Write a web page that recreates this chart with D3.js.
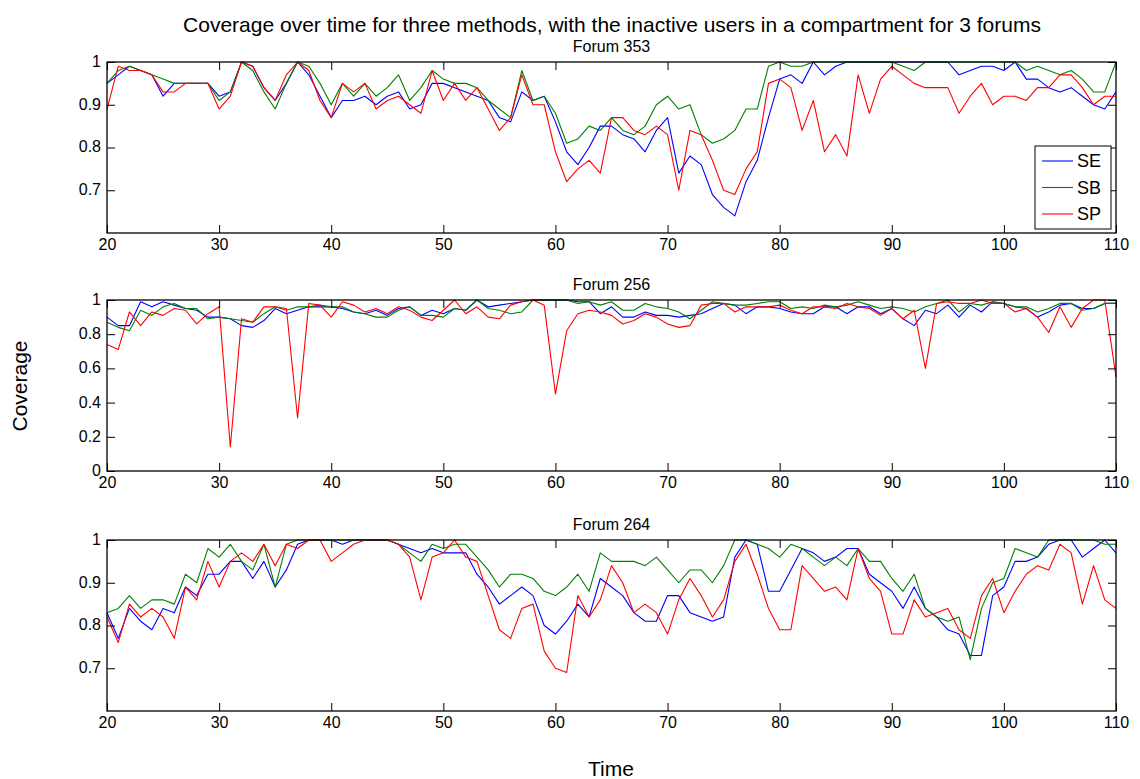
<!DOCTYPE html>
<html>
<head>
<meta charset="utf-8">
<script src="https://cdnjs.cloudflare.com/ajax/libs/d3/7.8.5/d3.min.js"></script>
<style>
  body { margin: 0; background: #fff; }
  svg { font-family: "Liberation Sans", Arial, Helvetica, sans-serif; }
  .tick text { font-size: 16px; fill: #000; }
  .tick line { stroke: #000; }
</style>
</head>
<body>
<svg id="chart" width="1140" height="779"></svg>
<script>
// time steps shared by every panel
var time = d3.range(20, 111);

var seriesNames = ['SE', 'SB', 'SP'];
var seriesColors = ['#0000ff', '#008000', '#ff0000'];

// Forum 353
var f353SE = [.95,.97,.99,.98,.97,.92,.95,.95,.95,.95, .92,.93,1,.99,.94,.91,.95,1,.97,.92,
  .87,.91,.91,.92,.90,.92,.93,.89,.90,.95, .95,.94,.93,.92,.91,.87,.86,.93,.91,.92,
  .86,.79,.76,.80,.85,.85,.83,.82,.79,.84, .87,.74,.78,.76,.69,.66,.64,.72,.77,.87,
  .96,.97,.95,1,.97,.99,1,1,1,1, 1,1,1,1,1,1,.97,.98,.99,.99, .98,1,.96,.96,.94,.93,.94,.92,.90,.89,.93];
var f353SB = [.95,.98,.99,.98,.97,.96,.95,.95,.95,.95, .91,.93,1,.98,.93,.89,.95,1,.99,.95,
  .90,.95,.92,.95,.92,.94,.97,.91,.94,.98, .96,.95,.95,.94,.91,.89,.87,.98,.91,.92,
  .88,.81,.82,.85,.84,.87,.84,.83,.85,.90, .92,.89,.90,.83,.81,.82,.84,.89,.89,.99,
  1,.99,.99,1,1,1,1,1,1,1, 1,.99,.98,1,1,1,1,1,1,1, 1,1,.98,.99,.98,.97,.98,.96,.93,.93,1];
var f353SP = [.89,.99,.98,.98,.97,.93,.93,.95,.95,.95, .89,.92,1,.99,.94,.91,.97,1,.98,.91,
  .87,.95,.93,.95,.89,.91,.92,.90,.88,.98, .91,.95,.91,.94,.89,.84,.87,.97,.90,.90,
  .79,.72,.75,.77,.74,.87,.87,.84,.83,.85, .83,.70,.84,.83,.77,.70,.69,.75,.79,.95,
  .96,.94,.84,.91,.79,.83,.78,.97,.88,.96, .99,.97,.95,.94,.94,.94,.88,.92,.95,.90,
  .92,.92,.91,.94,.94,.97,.97,.94,.90,.92,.92];

// Forum 256
var f256SE = [.90,.85,.85,.99,.96,.99,.97,.95,.94,.90, .90,.89,.85,.84,.88,.95,.92,.94,.96,.96,
  .96,.95,.93,.92,.94,.91,.95,.96,.91,.94, .92,.95,.94,1,.96,.97,.98,.99,1,1,
  1,1,.99,.99,.92,.96,.90,.90,.93,.91, .91,.90,.91,.92,.95,.98,.97,.92,.96,.96,
  .95,.93,.92,.92,.96,.96,.92,.96,.96,.92, .95,.89,.85,.94,.92,.97,.90,.97,.93,.99,
  .98,.96,.95,.90,.93,.97,.98,.95,.95,.98,.98];
var f256SB = [.87,.84,.82,.94,.91,.96,.98,.95,.95,.89, .90,.89,.88,.87,.92,.96,.94,.96,.96,.97,
  .96,.96,.93,.92,.90,.90,.94,.96,.91,.91, .90,.95,.94,1,.95,.94,.92,.93,1,1,
  1,1,.98,.99,.97,.99,.94,.94,.98,.96, .95,.93,.89,.94,.99,.98,.97,.97,.98,.99,
  .99,.95,.96,.95,.97,.96,.97,.99,.97,.95, .96,.95,.93,.96,.98,1,.93,.98,.97,.99,
  .98,.96,.96,.93,.95,.98,.98,.94,.95,.98,.98];
var f256SP = [.74,.71,.93,.85,.93,.91,.95,.94,.86,.92, .96,.14,.89,.87,.96,.96,.95,.31,.98,.97,
  .90,.99,.97,.93,.95,.92,.96,.94,.90,.88, .94,1,.92,.96,.90,.89,.97,.99,1,.97,
  .45,.82,.92,.94,.93,.91,.86,.88,.92,.90, .86,.84,.85,.97,.98,.98,.93,.96,.96,.96,
  .97,.94,.92,.96,.96,.95,.98,.96,.95,.91, .95,.89,.94,.60,.98,.99,.98,.98,1,.98,
  .98,.93,.95,.90,.81,.96,.84,.95,1,1,.55];

// Forum 264
var f264SE = [.83,.77,.84,.81,.79,.84,.83,.89,.87,.92, .92,.95,.95,.91,.95,.89,.93,.99,1,1,
  1,.99,1,1,1,1,.99,.98,.97,.98, .97,.97,.97,.92,.89,.85,.87,.89,.87,.80,
  .78,.81,.85,.82,.91,.89,.87,.83,.81,.81, .87,.87,.83,.82,.81,.82,.96,1,.99,.88,
  .88,.93,.98,.97,.95,.96,.98,.98,.92,.90, .88,.84,.89,.84,.82,.79,.78,.73,.73,.87,
  .89,.95,.95,.96,.99,1,1,.96,.98,1,.97];
var f264SB = [.83,.84,.87,.84,.86,.86,.85,.92,.90,.98, .96,.99,.95,.93,.99,.89,.99,1,1,1,
  1,1,1,1,1,1,.99,.97,.95,.99, .98,.99,.99,.96,.93,.89,.92,.92,.91,.88,
  .87,.89,.92,.88,.97,.95,.95,.95,.94,.96, .93,.90,.93,.93,.90,.94,1,1,.99,.98,
  .96,.99,.98,.96,.94,.96,.94,.98,.95,.95, .91,.88,.92,.84,.82,.81,.82,.72,.84,.90,
  .91,.98,.97,.96,1,1,1,1,1,.99,.99];
var f264SP = [.82,.76,.85,.82,.84,.82,.77,.89,.86,.95, .89,.95,.97,.95,.99,.94,.99,.98,1,1,
  .95,.97,.99,1,1,1,.99,.96,.86,.96, .97,1,.96,.95,.87,.79,.77,.84,.85,.74,
  .70,.69,.87,.82,.86,.94,.90,.83,.85,.83, .78,.86,.91,.87,.82,.86,.95,.99,.92,.84,
  .79,.79,.94,.91,.88,.89,.86,.98,.91,.88, .78,.78,.86,.82,.83,.84,.79,.77,.87,.91,
  .83,.88,.92,.94,.93,.99,.97,.85,.94,.86,.84];

var xTicks = [20, 30, 40, 50, 60, 70, 80, 90, 100, 110];

var panels = [
  { title: 'Forum 353', series: [f353SE, f353SB, f353SP], domain: [0.6, 1], ticks: [0.7, 0.8, 0.9, 1], top: 62, legend: true },
  { title: 'Forum 256', series: [f256SE, f256SB, f256SP], domain: [0, 1], ticks: [0, 0.2, 0.4, 0.6, 0.8, 1], top: 300, legend: false },
  { title: 'Forum 264', series: [f264SE, f264SB, f264SP], domain: [0.6, 1], ticks: [0.7, 0.8, 0.9, 1], top: 540, legend: false }
];

var left = 107, right = 1116, plotH = 171;

var svg = d3.select('#chart');

svg.append('text')
  .attr('x', 612).attr('y', 32)
  .attr('text-anchor', 'middle')
  .attr('font-size', 21)
  .text('Coverage over time for three methods, with the inactive users in a compartment for 3 forums');

svg.append('text')
  .attr('transform', 'translate(27,386) rotate(-90)')
  .attr('text-anchor', 'middle')
  .attr('font-size', 21)
  .text('Coverage');

svg.append('text')
  .attr('x', 611).attr('y', 776)
  .attr('text-anchor', 'middle')
  .attr('font-size', 21)
  .text('Time');

var x = d3.scaleLinear().domain([20, 110]).range([left, right]);

panels.forEach(function (p) {
  var y = d3.scaleLinear().domain(p.domain).range([p.top + plotH, p.top]);
  var g = svg.append('g');

  var line = d3.line()
    .x(function (d, i) { return x(time[i]); })
    .y(function (d) { return y(d); });

  g.selectAll('path.series')
    .data(p.series)
    .enter().append('path')
    .attr('class', 'series')
    .attr('d', line)
    .attr('fill', 'none')
    .attr('stroke', function (d, i) { return seriesColors[i]; })
    .attr('stroke-width', 1.1)
    .attr('stroke-linejoin', 'round');

  // inward ticks on all four sides, matlab style
  g.append('g')
    .attr('transform', 'translate(0,' + (p.top + plotH) + ')')
    .call(d3.axisBottom(x).tickValues(xTicks).tickSize(-8).tickPadding(6).tickFormat(d3.format('d')))
    .call(function (a) { a.select('.domain').remove(); });
  g.append('g')
    .attr('transform', 'translate(0,' + p.top + ')')
    .call(d3.axisTop(x).tickValues(xTicks).tickSize(-8).tickFormat(''))
    .call(function (a) { a.select('.domain').remove(); });
  g.append('g')
    .attr('transform', 'translate(' + left + ',0)')
    .call(d3.axisLeft(y).tickValues(p.ticks).tickSize(-8).tickPadding(6).tickFormat(function (d) { return d3.format('~g')(d); }))
    .call(function (a) { a.select('.domain').remove(); })
    .call(function (a) { a.selectAll('.tick text').attr('dy', '0.28em'); });
  g.append('g')
    .attr('transform', 'translate(' + right + ',0)')
    .call(d3.axisRight(y).tickValues(p.ticks).tickSize(-8).tickFormat(''))
    .call(function (a) { a.select('.domain').remove(); });

  g.append('rect')
    .attr('x', left).attr('y', p.top)
    .attr('width', right - left).attr('height', plotH)
    .attr('fill', 'none')
    .attr('stroke', '#000')
    .attr('stroke-width', 1.3);

  g.append('text')
    .attr('x', (left + right) / 2).attr('y', p.top - 10)
    .attr('text-anchor', 'middle')
    .attr('font-size', 16)
    .text(p.title);

  if (p.legend) {
    var lg = g.append('g').attr('transform', 'translate(1035,146)');
    lg.append('rect')
      .attr('width', 76).attr('height', 83)
      .attr('fill', '#fff').attr('stroke', '#000').attr('stroke-width', 1);
    seriesNames.forEach(function (name, i) {
      var cy = 15 + i * 26.5;
      lg.append('line')
        .attr('x1', 7).attr('x2', 38).attr('y1', cy).attr('y2', cy)
        .attr('stroke', seriesColors[i]).attr('stroke-width', 1.1);
      lg.append('text')
        .attr('x', 42).attr('y', cy + 6)
        .attr('font-size', 18)
        .text(name);
    });
  }
});
</script>
</body>
</html>
